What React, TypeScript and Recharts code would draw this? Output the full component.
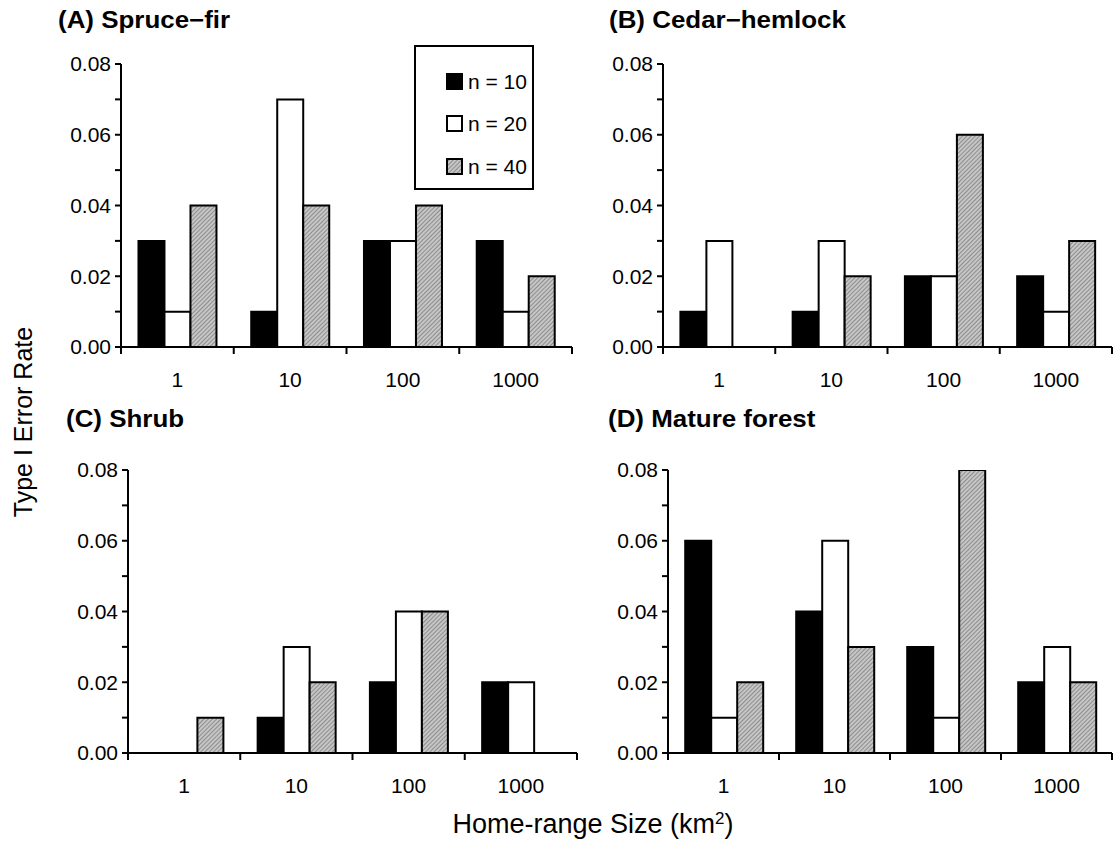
import { BarChart, Bar, XAxis, YAxis, Legend } from "recharts";

const categories = ["1", "10", "100", "1000"];
const seriesNames = ["n = 10", "n = 20", "n = 40"];
const yTicks = [0, 0.01, 0.02, 0.03, 0.04, 0.05, 0.06, 0.07, 0.08];

// (A) Spruce-fir
const spruceN10 = [0.03, 0.01, 0.03, 0.03];
const spruceN20 = [0.01, 0.07, 0.03, 0.01];
const spruceN40 = [0.04, 0.04, 0.04, 0.02];
// (B) Cedar-hemlock
const cedarN10 = [0.01, 0.01, 0.02, 0.02];
const cedarN20 = [0.03, 0.03, 0.02, 0.01];
const cedarN40 = [0, 0.02, 0.06, 0.03];
// (C) Shrub
const shrubN10 = [0, 0.01, 0.02, 0.02];
const shrubN20 = [0, 0.03, 0.04, 0.02];
const shrubN40 = [0.01, 0.02, 0.04, 0];
// (D) Mature forest
const matureN10 = [0.06, 0.04, 0.03, 0.02];
const matureN20 = [0.01, 0.06, 0.01, 0.03];
const matureN40 = [0.02, 0.03, 0.08, 0.02];

const FONT = "'Liberation Sans', Arial, Helvetica, sans-serif";
const FILLS = ["#000000", "#ffffff", "url(#hatch)"];
const KEYS = ["n10", "n20", "n40"];

function buildRows(a: number[], b: number[], c: number[]) {
  return categories.map((cat, i) => ({ cat, n10: a[i], n20: b[i], n40: c[i] }));
}

const panels = [
  { title: "(A) Spruce\u2212fir", data: buildRows(spruceN10, spruceN20, spruceN40), legend: true },
  { title: "(B) Cedar\u2212hemlock", data: buildRows(cedarN10, cedarN20, cedarN40), legend: false },
  { title: "(C) Shrub", data: buildRows(shrubN10, shrubN20, shrubN40), legend: false },
  { title: "(D) Mature forest", data: buildRows(matureN10, matureN20, matureN40), legend: false },
];

// plot-area placement of each panel (axis origin, top of 0.08, width)
const layout = [
  { x0: 121, yTop: 64, yBottom: 347, w: 451, titleX: 58, titleY: 8 },
  { x0: 663, yTop: 64, yBottom: 347, w: 449, titleX: 609, titleY: 8 },
  { x0: 128, yTop: 470, yBottom: 753, w: 449, titleX: 66, titleY: 407 },
  { x0: 668, yTop: 470, yBottom: 753, w: 444, titleX: 608, titleY: 407 },
];

const Y_AXIS_W = 70;
const TOP_PAD = 30;
const X_AXIS_H = 50;

// category tick: label in the middle of the band, tick marks on the band edges
function CatTick(props: any) {
  const { x, y, payload, index, band } = props;
  const half = payload && typeof payload.offset === "number" && payload.offset > 0 ? payload.offset : band / 2;
  const last = index === categories.length - 1;
  return (
    <g>
      <line x1={x - half} x2={x - half} y1={y} y2={y + 7} stroke="#000" strokeWidth={2} />
      {last && <line x1={x + half} x2={x + half} y1={y} y2={y + 7} stroke="#000" strokeWidth={2} />}
      <text x={x} y={y + 25} dy="0.71em" textAnchor="middle" fontSize={21} fill="#000" fontFamily={FONT}>
        {payload.value}
      </text>
    </g>
  );
}

function Swatch({ fill }: { fill: string }) {
  return (
    <svg width={17} height={17} style={{ display: "block" }}>
      <rect x={1} y={1} width={15} height={15} fill={fill} stroke="#000" strokeWidth={2} />
    </svg>
  );
}

function LegendBox() {
  return (
    <div
      style={{
        width: 116,
        height: 128,
        border: "2px solid #000",
        background: "#fff",
        fontFamily: FONT,
        fontSize: 21,
        color: "#000",
        paddingTop: 13,
        boxSizing: "content-box",
      }}
    >
      {seriesNames.map((name, i) => (
        <div key={name} style={{ display: "flex", alignItems: "center", height: 42.5, marginLeft: 30 }}>
          <Swatch fill={FILLS[i]} />
          <span style={{ marginLeft: 5, lineHeight: "21px" }}>{name}</span>
        </div>
      ))}
    </div>
  );
}

function Panel({ idx }: { idx: number }) {
  const p = panels[idx];
  const l = layout[idx];
  const left = l.x0 - Y_AXIS_W;
  const top = l.yTop - TOP_PAD;
  const width = Y_AXIS_W + l.w + 10;
  const height = TOP_PAD + (l.yBottom - l.yTop) + X_AXIS_H;
  const band = l.w / categories.length;
  return (
    <>
      <div
        style={{
          position: "absolute",
          left: l.titleX,
          top: l.titleY,
          fontFamily: FONT,
          fontWeight: "bold",
          fontSize: 24,
          lineHeight: "24px",
          whiteSpace: "nowrap",
          transform: "scaleX(1.08)",
          transformOrigin: "left center",
        }}
      >
        {p.title}
      </div>
      <div style={{ position: "absolute", left, top }}>
        <BarChart
          width={width}
          height={height}
          data={p.data}
          margin={{ top: TOP_PAD, right: 10, left: 0, bottom: 0 }}
          barCategoryGap="15.5%"
          barGap={0}
        >
          <XAxis
            dataKey="cat"
            height={X_AXIS_H}
            axisLine={{ stroke: "#000", strokeWidth: 2 }}
            tickLine={false}
            tickSize={0}
            tickMargin={0}
            interval={0}
            tick={(tp: any) => <CatTick {...tp} band={band} />}
          />
          <YAxis
            width={Y_AXIS_W}
            domain={[0, 0.08]}
            ticks={yTicks}
            interval={0}
            allowDataOverflow
            tickSize={6}
            tickMargin={4}
            axisLine={{ stroke: "#000", strokeWidth: 2 }}
            tickLine={{ stroke: "#000", strokeWidth: 2 }}
            tick={{ fontSize: 21, fill: "#000", fontFamily: FONT }}
            tickFormatter={(v: number) => (Math.round(v * 100) % 2 === 0 ? v.toFixed(2) : "")}
          />
          {KEYS.map((k, i) => (
            <Bar
              key={k}
              dataKey={k}
              name={seriesNames[i]}
              fill={FILLS[i]}
              stroke="#000"
              strokeWidth={2}
              isAnimationActive={false}
            />
          ))}
          {p.legend && (
            <Legend
              layout="vertical"
              align="center"
              verticalAlign="middle"
              content={() => <LegendBox />}
              wrapperStyle={{ position: "absolute", left: 414 - left, top: 45 - top, width: "auto" }}
            />
          )}
        </BarChart>
      </div>
    </>
  );
}

export default function App() {
  return (
    <div
      style={{
        position: "absolute",
        left: 0,
        top: 0,
        width: 1117,
        height: 844,
        background: "#fff",
        overflow: "hidden",
      }}
    >
      <svg width={0} height={0} style={{ position: "absolute" }}>
        <defs>
          <pattern id="hatch" patternUnits="userSpaceOnUse" width={3} height={3} patternTransform="rotate(45)">
            <rect width={3} height={3} fill="#c6c6c6" />
            <line x1={0} y1={0} x2={0} y2={3} stroke="#6e6e6e" strokeWidth={1.3} />
          </pattern>
        </defs>
      </svg>
      {panels.map((_, i) => (
        <Panel key={i} idx={i} />
      ))}
      <div
        style={{
          position: "absolute",
          left: 23,
          top: 422,
          transform: "translate(-50%, -50%) rotate(-90deg)",
          fontFamily: FONT,
          fontSize: 25,
          whiteSpace: "nowrap",
        }}
      >
        Type I Error Rate
      </div>
      <div
        style={{
          position: "absolute",
          left: 593,
          top: 824,
          transform: "translate(-50%, -50%)",
          fontFamily: FONT,
          fontSize: 27,
          whiteSpace: "nowrap",
        }}
      >
        Home-range Size (km<sup style={{ fontSize: 17, verticalAlign: "0.5em", lineHeight: 0 }}>2</sup>)
      </div>
    </div>
  );
}
